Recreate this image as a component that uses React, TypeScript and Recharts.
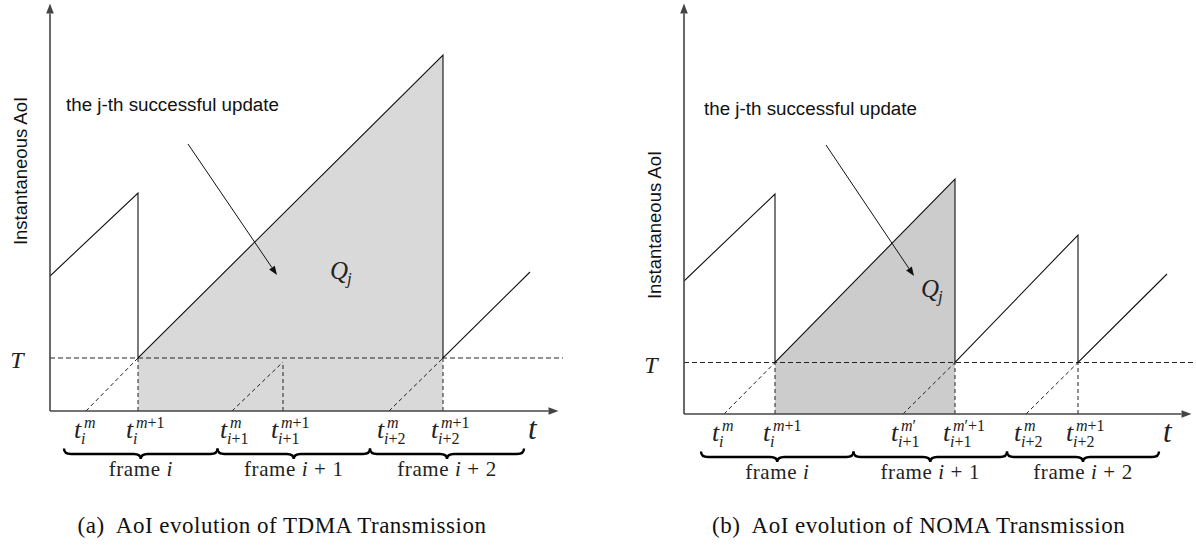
import React from "react";
import { ComposedChart, Line, Area, XAxis, YAxis, ReferenceLine, ReferenceDot } from "recharts";

type Pt = { t: number; age: number };

const SERIF = "'Liberation Serif', 'Times New Roman', serif";
const SANS = "'Liberation Sans', Arial, sans-serif";

// ---- (a) TDMA ----
const tdmaThreshold = 5.3;
const tdmaAge: Pt[] = [
    { t: 0, age: 13.5 }, { t: 8.8, age: 21.8 }, { t: 8.8, age: 5.3 },
    { t: 39.3, age: 35.6 }, { t: 39.3, age: 5.3 }, { t: 48.0, age: 13.9 },
];
const tdmaShade: Pt[] = [{ t: 8.8, age: 5.3 }, { t: 39.3, age: 35.6 }];
const tdmaTicks = [3.6, 8.8, 18.2, 23.3, 33.9, 39.3];
const tdmaTickSup = ["m", "m+1", "m", "m+1", "m", "m+1"];
const tdmaTickSub = ["i", "i", "i+1", "i+1", "i+2", "i+2"];
const tdmaGhostTop: Pt[] = [{ t: 8.8, age: 5.3 }, { t: 23.3, age: 4.9 }, { t: 39.3, age: 5.3 }];
const tdmaFrames = [1.4, 16.75, 32.0, 47.4];

// ---- (b) NOMA ----
const nomaThreshold = 5.15;
const nomaAge: Pt[] = [
    { t: 0, age: 13.3 }, { t: 9.1, age: 22.0 }, { t: 9.1, age: 5.15 },
    { t: 27.1, age: 23.5 }, { t: 27.1, age: 5.15 }, { t: 39.4, age: 17.9 },
    { t: 39.4, age: 5.15 }, { t: 48.3, age: 14.0 },
];
const nomaShade: Pt[] = [{ t: 9.1, age: 5.15 }, { t: 27.1, age: 23.5 }];
const nomaTicks = [4.0, 9.1, 21.9, 27.1, 34.2, 39.4];
const nomaTickSup = ["m", "m+1", "m\u2032", "m\u2032+1", "m", "m+1"];
const nomaTickSub = ["i", "i", "i+1", "i+1", "i+2", "i+2"];
const nomaGhostTop: Pt[] = [{ t: 9.1, age: 5.15 }, { t: 27.1, age: 5.15 }, { t: 39.4, age: 5.15 }];
const nomaFrames = [1.7, 16.95, 32.3, 47.5];

const frameNames = ["i", "i+1", "i+2"];

function mathRuns(s: string) {
    const parts: { txt: string; it: boolean }[] = [];
    for (const ch of s) {
        const it = /[a-z]/i.test(ch);
        const last = parts[parts.length - 1];
        if (last && last.it === it) last.txt += ch;
        else parts.push({ txt: ch, it });
    }
    return parts.map((p, k) => (
        <tspan key={k} fontStyle={p.it ? "italic" : "normal"}>{p.txt}</tspan>
    ));
}

const arrowShape = (color: string, width: number, head: number) => (p: any) => {
    const { x1, y1, x2, y2 } = p;
    const ang = Math.atan2(y2 - y1, x2 - x1);
    const hx = x2 - head * Math.cos(ang);
    const hy = y2 - head * Math.sin(ang);
    const w = head * 0.38;
    const pts = `${x2},${y2} ${hx + w * Math.sin(ang)},${hy - w * Math.cos(ang)} ${hx - w * Math.sin(ang)},${hy + w * Math.cos(ang)}`;
    return (
        <g>
            <line x1={x1} y1={y1} x2={hx} y2={hy} stroke={color} strokeWidth={width} />
            <polygon points={pts} fill={color} />
        </g>
    );
};

const braceShape = (name: string) => (p: any) => {
    const { x1, x2, y1 } = p;
    const top = y1 + 37.5, mid = y1 + 43, tip = y1 + 48;
    const xm = (x1 + x2) / 2;
    const r = 7;
    const d = `M${x1},${top} Q${x1},${mid} ${x1 + r},${mid} L${xm - r},${mid} Q${xm},${mid} ${xm},${tip} Q${xm},${mid} ${xm + r},${mid} L${x2 - r},${mid} Q${x2},${mid} ${x2},${top}`;
    return (
        <g>
            <path d={d} fill="none" stroke="#000" strokeWidth={2.4} />
            <text x={xm} y={y1 + 65} textAnchor="middle" fontFamily={SERIF} fontSize={21} letterSpacing={0.6} fill="#222">
                frame {mathRuns(name.replace(/\+/g, " + "))}
            </text>
        </g>
    );
};

interface PanelProps {
    left: number;
    yAxisWidth: number;
    rightMargin: number;
    bottomMargin: number;
    xMax: number;
    yMax: number;
    threshold: number;
    age: Pt[];
    shade: Pt[];
    shadeColor: string;
    ticks: number[];
    tickSup: string[];
    tickSub: string[];
    ghostTop: Pt[];
    frames: number[];
    yLabelAt: Pt;
    noteAt: Pt;
    arrowFrom: Pt;
    arrowTo: Pt;
    qAt: Pt;
    tAt: number;
    caption: string;
    captionCenter: number;
}

function Panel(props: PanelProps) {
    const { ticks, tickSup, tickSub, threshold } = props;

    const XTick = (p: any) => {
        const idx = ticks.indexOf(p.payload.value);
        if (idx < 0) return null;
        const x0 = p.x - 12;
        const yb = p.y + 27;
        return (
            <g>
                <text x={x0} y={yb} fontFamily={SERIF} fontStyle="italic" fontSize={26} fill="#222">t</text>
                <text x={x0 + 10} y={yb - 10} fontFamily={SERIF} fontSize={16} fill="#222">{mathRuns(tickSup[idx])}</text>
                <text x={x0 + 7} y={yb + 6} fontFamily={SERIF} fontSize={16} fill="#222">{mathRuns(tickSub[idx])}</text>
            </g>
        );
    };

    const YTick = (p: any) => (
        <text x={p.x - 33} y={p.y + 10} textAnchor="middle" fontFamily={SERIF} fontStyle="italic" fontSize={24} fill="#222">T</text>
    );

    return (
        <div style={{ position: "absolute", left: props.left, top: 0, width: 598, height: 546 }}>
            <ComposedChart
                width={598}
                height={546}
                margin={{ top: 0, right: props.rightMargin, bottom: props.bottomMargin, left: 0 }}
            >
                <XAxis
                    dataKey="t"
                    type="number"
                    domain={[0, props.xMax]}
                    allowDataOverflow
                    ticks={ticks}
                    interval={0}
                    axisLine={false}
                    tickLine={false}
                    tickSize={0}
                    tickMargin={0}
                    height={40}
                    tick={XTick}
                />
                <YAxis
                    type="number"
                    domain={[0, props.yMax]}
                    allowDataOverflow
                    ticks={[threshold]}
                    axisLine={false}
                    tickLine={false}
                    tickSize={0}
                    tickMargin={0}
                    width={props.yAxisWidth}
                    tick={YTick}
                />

                {/* shaded area Q_j */}
                <Area
                    data={props.shade}
                    dataKey="age"
                    type="linear"
                    fill={props.shadeColor}
                    fillOpacity={1}
                    stroke="none"
                    isAnimationActive={false}
                />

                {/* threshold T */}
                <ReferenceLine y={threshold} stroke="#222" strokeWidth={1} strokeDasharray="5 3" />

                {/* dashed ghost ramps and drops */}
                {props.ghostTop.map((g, k) => (
                    <Line
                        key={`ghost-${k}`}
                        data={[{ t: ticks[k * 2], age: 0 }, g]}
                        dataKey="age"
                        type="linear"
                        stroke="#222"
                        strokeWidth={1}
                        strokeDasharray="4 3"
                        dot={false}
                        isAnimationActive={false}
                    />
                ))}
                {props.ghostTop.map((g, k) => (
                    <Line
                        key={`drop-${k}`}
                        data={[{ t: g.t, age: 0 }, g]}
                        dataKey="age"
                        type="linear"
                        stroke="#222"
                        strokeWidth={1}
                        strokeDasharray="4 3"
                        dot={false}
                        isAnimationActive={false}
                    />
                ))}

                {/* AoI sawtooth */}
                <Line
                    data={props.age}
                    dataKey="age"
                    type="linear"
                    stroke="#111"
                    strokeWidth={1.1}
                    dot={false}
                    isAnimationActive={false}
                />

                {/* axes with arrows */}
                <ReferenceLine
                    segment={[{ x: 0, y: 0 }, { x: props.xMax - 0.45, y: 0 }]}
                    ifOverflow="visible"
                    shape={arrowShape("#444", 1.6, 10)}
                />
                <ReferenceLine
                    segment={[{ x: 0, y: 0 }, { x: 0, y: props.yMax - 0.35 }]}
                    ifOverflow="visible"
                    shape={arrowShape("#444", 1.6, 10)}
                />

                {/* frame braces */}
                {frameNames.map((name, k) => (
                    <ReferenceLine
                        key={`frame-${k}`}
                        segment={[{ x: props.frames[k], y: 0 }, { x: props.frames[k + 1], y: 0 }]}
                        ifOverflow="visible"
                        shape={braceShape(name)}
                    />
                ))}

                {/* annotation arrow */}
                <ReferenceLine
                    segment={[{ x: props.arrowFrom.t, y: props.arrowFrom.age }, { x: props.arrowTo.t, y: props.arrowTo.age }]}
                    ifOverflow="visible"
                    shape={arrowShape("#111", 1, 9)}
                />

                <ReferenceDot
                    x={props.noteAt.t}
                    y={props.noteAt.age}
                    r={0}
                    ifOverflow="visible"
                    shape={(p: any) => (
                        <text x={p.cx} y={p.cy} fontFamily={SANS} fontSize={18.8} fill="#111">the j-th successful update</text>
                    )}
                />
                <ReferenceDot
                    x={props.qAt.t}
                    y={props.qAt.age}
                    r={0}
                    ifOverflow="visible"
                    shape={(p: any) => (
                        <g>
                            <text x={p.cx} y={p.cy} fontFamily={SERIF} fontStyle="italic" fontSize={25} fill="#222">Q</text>
                            <text x={p.cx + 17} y={p.cy + 5} fontFamily={SERIF} fontStyle="italic" fontSize={17} fill="#222">j</text>
                        </g>
                    )}
                />
                <ReferenceDot
                    x={props.yLabelAt.t}
                    y={props.yLabelAt.age}
                    r={0}
                    ifOverflow="visible"
                    shape={(p: any) => (
                        <text
                            x={p.cx}
                            y={p.cy}
                            transform={`rotate(-90 ${p.cx} ${p.cy})`}
                            textAnchor="middle"
                            fontFamily={SANS}
                            fontSize={18.5}
                            fill="#111"
                        >
                            Instantaneous AoI
                        </text>
                    )}
                />
                <ReferenceDot
                    x={props.tAt}
                    y={0}
                    r={0}
                    ifOverflow="visible"
                    shape={(p: any) => (
                        <text x={p.cx} y={p.cy + 28} fontFamily={SERIF} fontStyle="italic" fontSize={31} fill="#222">t</text>
                    )}
                />
            </ComposedChart>
            <div
                style={{
                    position: "absolute",
                    left: props.captionCenter - 300,
                    width: 600,
                    top: 514,
                    textAlign: "center",
                    fontFamily: SERIF,
                    fontSize: 23,
                    lineHeight: "23px",
                    letterSpacing: 0.5,
                    color: "#111",
                    whiteSpace: "pre",
                }}
            >
                {props.caption}
            </div>
        </div>
    );
}

export default function App() {
    return (
        <div style={{ position: "relative", width: 1196, height: 546, background: "#fff", overflow: "hidden" }}>
            <style>{"body{margin:0}"}</style>
            <Panel
                left={0}
                yAxisWidth={50}
                rightMargin={35}
                bottomMargin={95}
                xMax={51.3}
                yMax={41.1}
                threshold={tdmaThreshold}
                age={tdmaAge}
                shade={tdmaShade}
                shadeColor="#d9d9d9"
                ticks={tdmaTicks}
                tickSup={tdmaTickSup}
                tickSub={tdmaTickSub}
                ghostTop={tdmaGhostTop}
                frames={tdmaFrames}
                yLabelAt={{ t: -2.3, age: 24.0 }}
                noteAt={{ t: 1.6, age: 30.0 }}
                arrowFrom={{ t: 13.8, age: 26.7 }}
                arrowTo={{ t: 22.7, age: 13.6 }}
                qAt={{ t: 28.0, age: 13.2 }}
                tAt={47.8}
                caption={"(a)  AoI evolution of TDMA Transmission"}
                captionCenter={282}
            />
            <Panel
                left={598}
                yAxisWidth={86}
                rightMargin={0}
                bottomMargin={92}
                xMax={51.2}
                yMax={41.4}
                threshold={nomaThreshold}
                age={nomaAge}
                shade={nomaShade}
                shadeColor="#cccccc"
                ticks={nomaTicks}
                tickSup={nomaTickSup}
                tickSub={nomaTickSub}
                ghostTop={nomaGhostTop}
                frames={nomaFrames}
                yLabelAt={{ t: -2.3, age: 18.9 }}
                noteAt={{ t: 2.0, age: 29.9 }}
                arrowFrom={{ t: 14.2, age: 26.9 }}
                arrowTo={{ t: 23.0, age: 13.8 }}
                qAt={{ t: 23.7, age: 11.7 }}
                tAt={47.9}
                caption={"(b)  AoI evolution of NOMA Transmission"}
                captionCenter={320.6}
            />
        </div>
    );
}
